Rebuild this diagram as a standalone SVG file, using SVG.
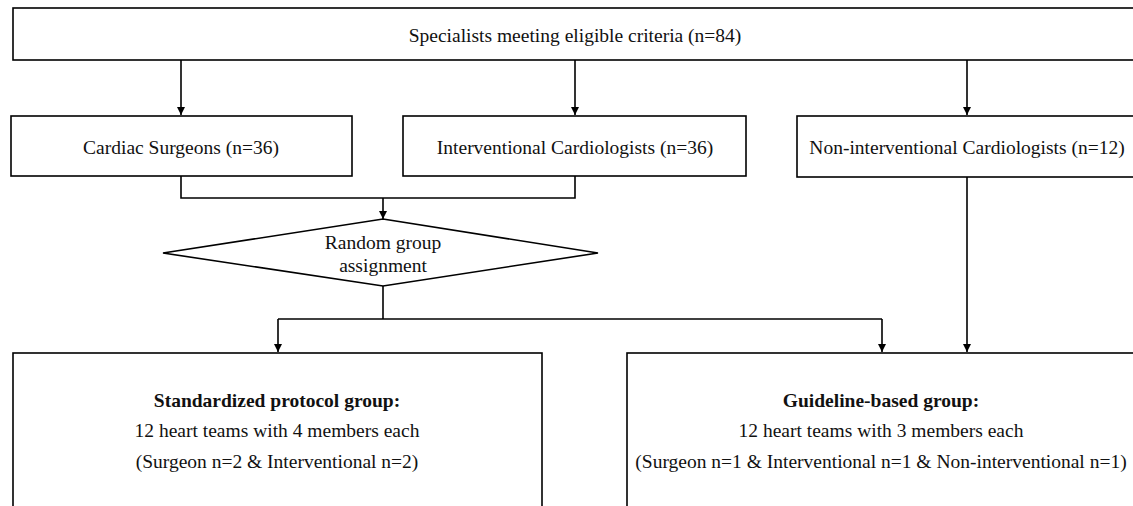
<svg xmlns="http://www.w3.org/2000/svg" width="1133" height="506" viewBox="0 0 1133 506">
<style>
.box{fill:#fff;stroke:#000;stroke-width:1.6}
.ln{fill:none;stroke:#000;stroke-width:1.6}
text{font-family:"Liberation Serif","Times New Roman",serif;font-size:19.5px;fill:#111;text-anchor:middle}
.b{font-weight:bold}
</style>
<defs>
<marker id="ah" markerWidth="10" markerHeight="10" refX="8" refY="5" orient="auto" markerUnits="userSpaceOnUse">
<path d="M0,1 L8,5 L0,9 z" fill="#000"/>
</marker>
</defs>
<rect width="1133" height="506" fill="#fff"/>
<g id="connectors">
<path class="ln" d="M181,60 V115" marker-end="url(#ah)"/>
<path class="ln" d="M575,60 V115" marker-end="url(#ah)"/>
<path class="ln" d="M967,60 V115" marker-end="url(#ah)"/>
<path class="ln" d="M181,176 V198 H575 V176"/>
<path class="ln" d="M383,198 V219" marker-end="url(#ah)"/>
<path class="ln" d="M383,286 V319"/>
<path class="ln" d="M278,319 H882"/>
<path class="ln" d="M278,319 V352" marker-end="url(#ah)"/>
<path class="ln" d="M882,319 V352" marker-end="url(#ah)"/>
<path class="ln" d="M967,177 V352" marker-end="url(#ah)"/>
</g>
<g id="n-eligible">
<rect class="box" x="13" y="8" width="1140" height="52"/>
<text x="575" y="42">Specialists meeting eligible criteria (n=84)</text>
</g>
<g id="n-surgeons">
<rect class="box" x="11" y="116" width="341" height="60"/>
<text x="181" y="154">Cardiac Surgeons (n=36)</text>
</g>
<g id="n-interventional">
<rect class="box" x="403" y="116" width="343" height="60"/>
<text x="575" y="154">Interventional Cardiologists (n=36)</text>
</g>
<g id="n-noninterventional">
<rect class="box" x="797" y="116" width="350" height="61"/>
<text x="967" y="154">Non-interventional Cardiologists (n=12)</text>
</g>
<g id="n-random">
<polygon class="box" points="383,219 598,253 383,286 163,253"/>
<text x="383" y="249">Random group</text>
<text x="383" y="272">assignment</text>
</g>
<g id="n-standardized">
<rect class="box" x="13" y="353" width="529" height="170"/>
<text class="b" x="277" y="407">Standardized protocol group:</text>
<text x="277" y="437">12 heart teams with 4 members each</text>
<text x="277" y="468">(Surgeon n=2 &amp; Interventional n=2)</text>
</g>
<g id="n-guideline">
<rect class="box" x="627" y="353" width="530" height="170"/>
<text class="b" x="881" y="407">Guideline-based group:</text>
<text x="881" y="437">12 heart teams with 3 members each</text>
<text x="881" y="468">(Surgeon n=1 &amp; Interventional n=1 &amp; Non-interventional n=1)</text>
</g>
</svg>
